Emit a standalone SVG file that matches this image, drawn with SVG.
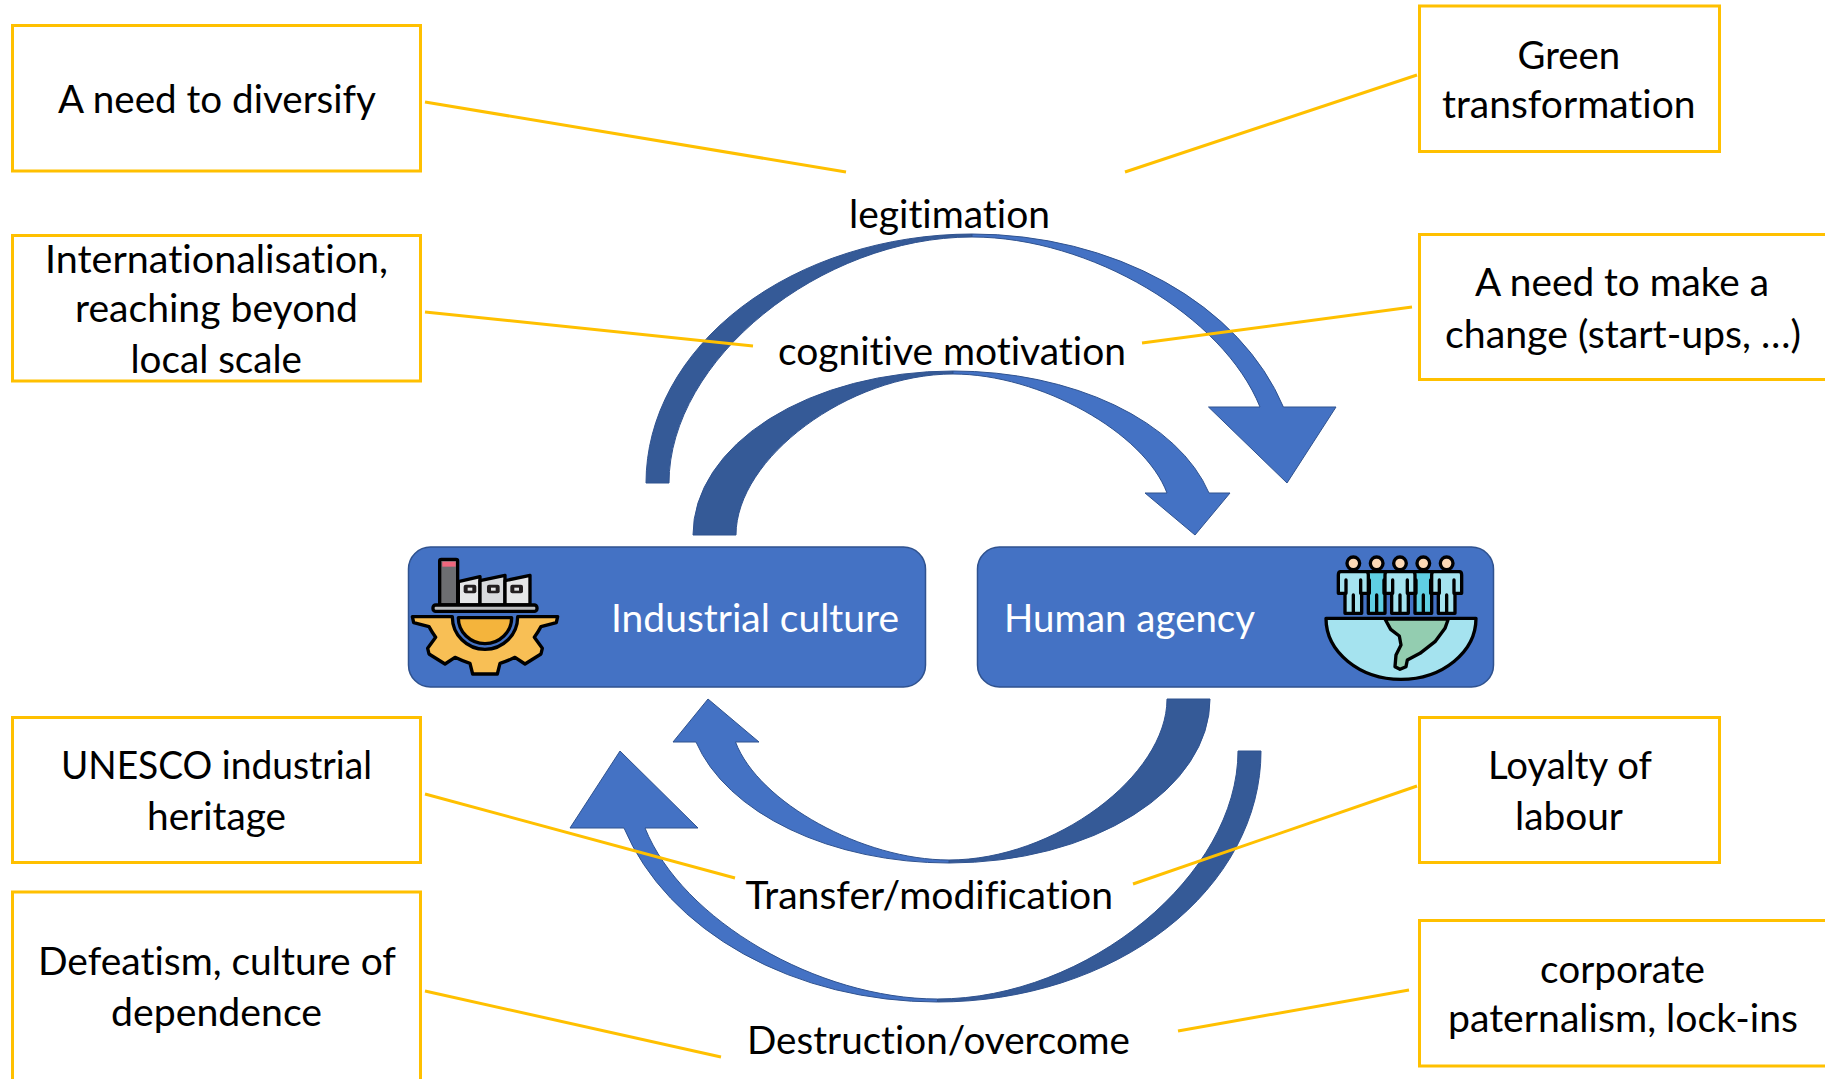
<svg xmlns="http://www.w3.org/2000/svg" width="1825" height="1079" viewBox="0 0 1825 1079">
<style>
text{font-family:"Lato","Carlito","Liberation Sans",sans-serif;font-size:38px;fill:#000;font-variant-ligatures:none}
.w{fill:#fff}
.box{fill:#fff;stroke:#FFC000;stroke-width:3}
.lead{stroke:#FFC000;stroke-width:3;fill:none}
.dk{fill:#355A97;stroke:#2F528F;stroke-width:1}
.lt{fill:#4472C4;stroke:#2F528F;stroke-width:1}
.rr{fill:#4472C4;stroke:#2F528F;stroke-width:1.5}
.ic{stroke:#000;stroke-width:10;stroke-linejoin:round;stroke-linecap:round}
</style>
<defs>
<g id="person">
<path class="ic" d="M-38,65Q-45,65-45,75L-45,130L-25,130L-25,190L25,190L25,130L45,130L45,75Q45,65 38,65Z"/>
<path class="ic" fill="none" d="M-22,90V130M22,90V130M0,135V190"/>
<circle class="ic" fill="#FCD9B6" cy="40" r="19"/>
</g>
</defs>
<g id="connectors">
<path class="dk" d="M646,483A327,249 0 0 1 972,234L972,237C820.5,237 669,360 669,483Z"/>
<path class="lt" d="M972,234A327,249 0 0 1 1283.4,407L1336,407L1287,483L1208.5,407L1260,407C1223.5,316 1090,237 972,237Z"/>
<path class="dk" d="M693,535A260,164 0 0 1 953,371L953,374C849,374 736,458 736,535Z"/>
<path class="lt" d="M953,371A265,164 0 0 1 1209,493L1230,493L1195,535L1145,493L1167,493C1144.4,432.5 1040,374 953,374Z"/>
<path class="dk" d="M1210,699A261,164 0 0 1 949,863L949,860C1054,860 1167,776 1167,699Z"/>
<path class="lt" d="M949,863A262,164 0 0 1 696,742L673,742L708,699L759,742L735.5,742C758.5,802.5 863,860 949,860Z"/>
<path class="dk" d="M1261,751A323.5,251 0 0 1 937.5,1002L937.5,999C1087.5,999 1238,875 1238,751Z"/>
<path class="lt" d="M937.5,1002A329,251 0 0 1 624,828L570,828L620,751L698,828L645,828C682,920 817.5,999 937.5,999Z"/>
<line class="lead" x1="425" y1="102" x2="846" y2="172"/>
<line class="lead" x1="425" y1="312" x2="753" y2="346"/>
<line class="lead" x1="1125" y1="172" x2="1417" y2="75"/>
<line class="lead" x1="1142" y1="343" x2="1412" y2="307"/>
<line class="lead" x1="425" y1="794" x2="735" y2="878"/>
<line class="lead" x1="425" y1="991" x2="721" y2="1057"/>
<line class="lead" x1="1133" y1="884" x2="1417" y2="786"/>
<line class="lead" x1="1178" y1="1031" x2="1409" y2="990"/>
</g>
<g id="box-diversify"><rect class="box" x="12.5" y="25.5" width="408" height="145.5"/>
<text x="58" y="113" textLength="318" lengthAdjust="spacingAndGlyphs">A need to diversify</text></g>
<g id="box-green"><rect class="box" x="1419.5" y="6" width="300" height="145.5"/>
<text x="1517.5" y="69" textLength="102.5" lengthAdjust="spacingAndGlyphs">Green</text>
<text x="1442" y="118" textLength="253.5" lengthAdjust="spacingAndGlyphs">transformation</text></g>
<g id="box-intl"><rect class="box" x="12.5" y="235.5" width="408" height="145.5"/>
<text x="45" y="273" textLength="343" lengthAdjust="spacingAndGlyphs">Internationalisation,</text>
<text x="75" y="322" textLength="283" lengthAdjust="spacingAndGlyphs">reaching beyond</text>
<text x="130.5" y="373" textLength="171.5" lengthAdjust="spacingAndGlyphs">local scale</text></g>
<g id="box-change"><rect class="box" x="1419.5" y="234.5" width="420" height="145"/>
<text x="1475" y="296" textLength="294" lengthAdjust="spacingAndGlyphs">A need to make a</text>
<text x="1445" y="348" textLength="356" lengthAdjust="spacingAndGlyphs">change (start-ups, …)</text></g>
<g id="box-unesco"><rect class="box" x="12.5" y="717.5" width="408" height="145"/>
<text x="61" y="779" textLength="311" lengthAdjust="spacingAndGlyphs">UNESCO industrial</text>
<text x="147" y="830" textLength="139" lengthAdjust="spacingAndGlyphs">heritage</text></g>
<g id="box-loyalty"><rect class="box" x="1419.5" y="717.5" width="300" height="145"/>
<text x="1488" y="779" textLength="164" lengthAdjust="spacingAndGlyphs">Loyalty of</text>
<text x="1515" y="830" textLength="108" lengthAdjust="spacingAndGlyphs">labour</text></g>
<g id="box-defeatism"><rect class="box" x="12.5" y="892" width="408" height="220"/>
<text x="38" y="975" textLength="358" lengthAdjust="spacingAndGlyphs">Defeatism, culture of</text>
<text x="111" y="1026" textLength="211" lengthAdjust="spacingAndGlyphs">dependence</text></g>
<g id="box-corporate"><rect class="box" x="1419.5" y="920.5" width="420" height="145.5"/>
<text x="1540" y="983" textLength="165" lengthAdjust="spacingAndGlyphs">corporate</text>
<text x="1448" y="1032" textLength="350" lengthAdjust="spacingAndGlyphs">paternalism, lock-ins</text></g>
<g id="label-legitimation"><text x="849" y="227.5" textLength="201" lengthAdjust="spacingAndGlyphs">legitimation</text></g>
<g id="label-cognitive"><text x="778" y="365" textLength="348" lengthAdjust="spacingAndGlyphs">cognitive motivation</text></g>
<g id="label-transfer"><text x="745.5" y="909" textLength="367.5" lengthAdjust="spacingAndGlyphs">Transfer/modification</text></g>
<g id="label-destruction"><text x="747" y="1054" textLength="383" lengthAdjust="spacingAndGlyphs">Destruction/overcome</text></g>
<g id="node-industrial">
<rect class="rr" x="408.5" y="547" width="517" height="140" rx="22"/>
<text class="w" x="611" y="632" textLength="288" lengthAdjust="spacingAndGlyphs">Industrial culture</text>
<g transform="translate(405,550) scale(.3333)">
<rect class="ic" x="104" y="28" width="54" height="137" rx="5" fill="#6D6E71"/>
<rect x="112" y="35" width="40" height="15" fill="#F0677D"/>
<path class="ic" fill="#E6E7E8" d="M160,95L225,80V165H160Z"/>
<path class="ic" fill="#D9DBDD" d="M225,92L300,76V165H225Z"/>
<path class="ic" fill="#E6E7E8" d="M300,92L375,76V165H300Z"/>
<rect x="176" y="104" width="38" height="26" rx="6" fill="#231F20"/><rect x="188" y="113" width="14" height="9" fill="#E6E7E8"/>
<rect x="246" y="104" width="38" height="26" rx="6" fill="#231F20"/><rect x="258" y="113" width="14" height="9" fill="#E6E7E8"/>
<rect x="316" y="104" width="38" height="26" rx="6" fill="#231F20"/><rect x="328" y="113" width="14" height="9" fill="#E6E7E8"/>
<rect class="ic" x="84" y="165" width="312" height="19" rx="8" fill="#BCBEC0"/>
<path class="ic" fill="#F8BF55" d="M22,200L26,218L72,230Q80,245 92,262L68,295L72,312L120,342L150,322Q170,332 195,340L203,372H277L285,340Q310,332 330,322L360,342L408,312L412,295L388,262Q400,245 408,230L454,218L458,200H338A98,98 0 0 1 142,200Z"/>
<path class="ic" fill="#F4B43C" d="M160,203A80,78 0 0 0 320,203Z"/>
</g>
</g>
<g id="node-human">
<rect class="rr" x="977.5" y="547" width="516" height="140" rx="22"/>
<text class="w" x="1004" y="632" textLength="251" lengthAdjust="spacingAndGlyphs">Human agency</text>
<g transform="translate(1320,550) scale(.3333)">
<use href="#person" x="170" fill="#5FCFE3"/>
<use href="#person" x="310" fill="#5FCFE3"/>
<use href="#person" x="100" fill="#A5E3EF"/>
<use href="#person" x="380" fill="#A5E3EF"/>
<use href="#person" x="240" fill="#A5E3EF"/>
<path class="ic" fill="#A5E3EF" d="M18,205H468A225,183 0 0 1 18,205Z"/>
<path class="ic" fill="#93CDB0" d="M195,207H385L375,235L345,275L300,310L262,330L258,350L240,358L225,350L228,315L243,285L238,258L212,238Z"/>
</g>
</g>
</svg>
